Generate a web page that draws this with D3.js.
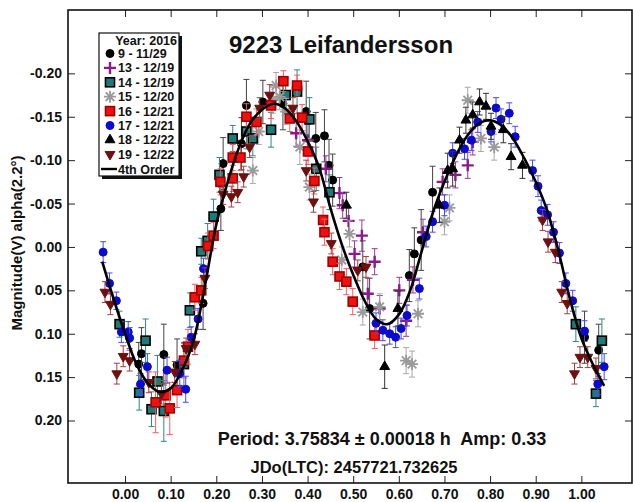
<!DOCTYPE html>
<html>
<head>
<meta charset="utf-8">
<script src="https://cdn.jsdelivr.net/npm/d3@7"></script>
<style>
body { margin: 0; background: #fff; }
svg text { font-family: "Liberation Sans", Arial, sans-serif; font-weight: bold; fill: #111; }
</style>
</head>
<body>
<div id="chart"></div>
<script>
// begin data //

const xTicks = [0.0, 0.1, 0.2, 0.3, 0.4, 0.5, 0.6, 0.7, 0.8, 0.9, 1.0]
const yTicks = [-0.20, -0.15, -0.10, -0.05, 0.00, 0.05, 0.10, 0.15, 0.20]

// 4th order fit: [phase, mag]
const fitCurve = [
    [-0.05, 0.017], [-0.025, 0.060], [0.0, 0.100], [0.025, 0.135], [0.05, 0.157],
    [0.075, 0.167], [0.10, 0.163], [0.125, 0.142], [0.15, 0.108], [0.175, 0.045],
    [0.20, -0.026], [0.225, -0.075], [0.25, -0.115], [0.275, -0.143], [0.30, -0.158],
    [0.325, -0.165], [0.35, -0.160], [0.375, -0.145], [0.40, -0.122], [0.425, -0.092],
    [0.45, -0.045], [0.475, -0.003], [0.50, 0.032], [0.525, 0.062], [0.55, 0.083],
    [0.575, 0.089], [0.60, 0.078], [0.625, 0.050], [0.65, 0.005], [0.675, -0.040],
    [0.70, -0.075], [0.725, -0.105], [0.75, -0.128], [0.775, -0.142], [0.80, -0.146],
    [0.825, -0.140], [0.85, -0.125], [0.875, -0.102], [0.90, -0.075], [0.925, -0.042],
    [0.95, 0.005], [0.975, 0.060], [1.0, 0.105], [1.025, 0.135], [1.05, 0.160]
]

// sessions: [phase, mag, error]
const s09 = [
    [0.030, 0.135, 0.025], [0.036, 0.123, 0.030], [0.085, 0.124, 0.035], [0.114, 0.136, 0.030],
    [0.171, 0.065, 0.030], [0.210, -0.044, 0.025], [0.215, -0.096, 0.030], [0.255, -0.119, 0.030],
    [0.266, -0.163, 0.030], [0.302, -0.167, 0.025], [0.346, -0.165, 0.030], [0.397, -0.156, 0.035],
    [0.418, -0.125, 0.030], [0.437, -0.128, 0.030], [0.447, -0.094, 0.030], [0.455, -0.077, 0.030],
    [0.521, 0.023, 0.030], [0.536, 0.071, 0.035], [0.623, 0.033, 0.030], [0.634, 0.008, 0.030],
    [0.649, -0.008, 0.035], [0.674, -0.063, 0.030], [1.007, 0.104, 0.030], [1.038, 0.119, 0.030]
]
const s13 = [
    [0.375, -0.131, 0.015], [0.401, -0.123, 0.018], [0.440, -0.090, 0.015], [0.470, -0.062, 0.018],
    [0.477, -0.048, 0.015], [0.490, -0.030, 0.015], [0.503, 0.008, 0.015], [0.519, -0.013, 0.018],
    [0.532, 0.054, 0.018], [0.547, 0.017, 0.015], [0.558, 0.071, 0.015], [0.601, 0.050, 0.015],
    [0.616, 0.085, 0.018], [0.631, 0.038, 0.015], [0.653, -0.017, 0.015], [0.696, -0.075, 0.015],
    [0.724, -0.083, 0.015], [0.751, -0.094, 0.015], [0.762, -0.121, 0.015]
]
const s14 = [
    [-0.012, 0.089, 0.015], [0.031, 0.168, 0.020], [0.045, 0.108, 0.025], [0.058, 0.187, 0.020],
    [0.071, 0.155, 0.030], [0.085, 0.189, 0.035], [0.129, 0.135, 0.025], [0.142, 0.073, 0.020],
    [0.167, 0.005, 0.015], [0.181, -0.007, 0.020], [0.194, -0.035, 0.020], [0.207, -0.083, 0.020],
    [0.236, -0.125, 0.015], [0.266, -0.133, 0.020], [0.280, -0.125, 0.020], [0.320, -0.135, 0.020],
    [0.352, -0.175, 0.020], [0.377, -0.179, 0.025], [0.404, -0.147, 0.025], [0.419, -0.090, 0.025],
    [0.448, -0.063, 0.020], [0.988, 0.089, 0.020], [1.032, 0.169, 0.015], [1.045, 0.108, 0.025]
]
const s15 = [
    [0.280, -0.088, 0.015], [0.293, -0.133, 0.015], [0.324, -0.169, 0.015], [0.331, -0.186, 0.015],
    [0.339, -0.173, 0.015], [0.353, -0.156, 0.015], [0.383, -0.115, 0.020], [0.404, -0.069, 0.015],
    [0.475, 0.015, 0.015], [0.492, -0.015, 0.015], [0.521, 0.075, 0.015], [0.558, 0.069, 0.015],
    [0.616, 0.131, 0.015], [0.629, 0.135, 0.015], [0.642, 0.077, 0.015], [0.700, -0.029, 0.015],
    [0.711, -0.045, 0.015], [0.751, -0.169, 0.015], [0.780, -0.125, 0.015], [0.809, -0.115, 0.015]
]
const s16 = [
    [0.067, 0.179, 0.035], [0.089, 0.171, 0.025], [0.098, 0.186, 0.030], [0.114, 0.165, 0.020],
    [0.129, 0.131, 0.020], [0.138, 0.115, 0.020], [0.153, 0.058, 0.015], [0.167, 0.050, 0.015],
    [0.182, -0.001, 0.015], [0.194, -0.013, 0.015], [0.209, -0.075, 0.015], [0.236, -0.079, 0.015],
    [0.236, -0.103, 0.015], [0.253, -0.103, 0.015], [0.266, -0.150, 0.015], [0.288, -0.144, 0.015],
    [0.320, -0.163, 0.015], [0.347, -0.191, 0.012], [0.361, -0.148, 0.015], [0.377, -0.186, 0.012],
    [0.388, -0.149, 0.015], [0.401, -0.110, 0.015], [0.415, -0.076, 0.015], [0.434, -0.031, 0.015],
    [0.437, -0.017, 0.015], [0.455, 0.017, 0.015], [0.470, 0.034, 0.015], [0.485, 0.040, 0.015],
    [0.499, 0.063, 0.015], [0.547, 0.102, 0.015]
]
const s17 = [
    [-0.048, 0.006, 0.012], [-0.034, 0.042, 0.012], [-0.019, 0.062, 0.010], [-0.008, 0.098, 0.012],
    [0.007, 0.098, 0.012], [0.010, 0.105, 0.012], [0.034, 0.158, 0.012], [0.049, 0.138, 0.015],
    [0.092, 0.142, 0.015], [0.120, 0.146, 0.015], [0.133, 0.164, 0.015], [0.145, 0.104, 0.012],
    [0.160, 0.083, 0.012], [0.172, 0.025, 0.012], [0.550, 0.088, 0.012], [0.565, 0.096, 0.012],
    [0.580, 0.100, 0.012], [0.593, 0.104, 0.012], [0.605, 0.094, 0.012], [0.618, 0.079, 0.012],
    [0.645, 0.048, 0.012], [0.660, -0.012, 0.012], [0.674, -0.029, 0.012], [0.700, -0.048, 0.012],
    [0.718, -0.108, 0.012], [0.744, -0.113, 0.012], [0.759, -0.123, 0.012], [0.773, -0.144, 0.012],
    [0.802, -0.133, 0.012], [0.813, -0.160, 0.012], [0.824, -0.147, 0.012], [0.842, -0.154, 0.012],
    [0.855, -0.127, 0.012], [0.893, -0.088, 0.012], [0.905, -0.070, 0.012], [0.912, -0.042, 0.012],
    [0.926, -0.037, 0.012], [0.939, -0.017, 0.012], [0.952, 0.007, 0.012], [0.966, 0.042, 0.012],
    [0.981, 0.062, 0.012], [1.007, 0.097, 0.012], [1.036, 0.158, 0.012], [1.050, 0.138, 0.015]
]
const s18 = [
    [0.485, -0.048, 0.015], [0.569, 0.138, 0.025], [0.598, 0.071, 0.020], [0.689, -0.048, 0.020],
    [0.707, -0.088, 0.020], [0.718, -0.090, 0.020], [0.733, -0.123, 0.015], [0.747, -0.146, 0.015],
    [0.762, -0.152, 0.015], [0.777, -0.167, 0.015], [0.791, -0.162, 0.015], [0.802, -0.139, 0.015],
    [0.829, -0.135, 0.015], [0.846, -0.104, 0.015], [0.871, -0.094, 0.015]
]
const s19 = [
    [-0.044, 0.052, 0.012], [-0.032, 0.066, 0.012], [-0.018, 0.146, 0.012], [-0.004, 0.126, 0.012],
    [0.010, 0.131, 0.012], [0.052, 0.156, 0.012], [0.080, 0.169, 0.012], [0.109, 0.144, 0.012],
    [0.134, 0.117, 0.012], [0.153, 0.112, 0.012], [0.175, 0.036, 0.012], [0.215, -0.061, 0.012],
    [0.233, -0.058, 0.012], [0.247, -0.063, 0.012], [0.260, -0.081, 0.012], [0.273, -0.115, 0.012],
    [0.295, -0.160, 0.012], [0.317, -0.175, 0.012], [0.368, -0.160, 0.012], [0.397, -0.088, 0.012],
    [0.413, -0.052, 0.012], [0.452, -0.004, 0.012], [0.510, 0.027, 0.012], [0.528, 0.023, 0.012],
    [0.915, -0.031, 0.012], [0.927, -0.006, 0.012], [0.943, 0.006, 0.012], [0.957, 0.052, 0.012],
    [0.969, 0.065, 0.012], [0.985, 0.146, 0.012], [0.997, 0.127, 0.012], [1.014, 0.127, 0.012],
    [1.032, 0.140, 0.012]
]

const sessionNames = ['9 - 11/29', '13 - 12/19', '14 - 12/19', '15 - 12/20',
    '16 - 12/21', '17 - 12/21', '18 - 12/22', '19 - 12/22']

// end data //

const styles = [
    { shape: 'circle', fill: '#000', stroke: '#000', bar: '#444' },
    { shape: 'plus', fill: 'none', stroke: '#8a1a8a', bar: '#9a3a9a' },
    { shape: 'square', fill: '#1e7c78', stroke: '#000', bar: '#2a8a86' },
    { shape: 'asterisk', fill: 'none', stroke: '#9a9a9a', bar: '#a8a8a8' },
    { shape: 'square', fill: '#f01010', stroke: '#a00000', bar: '#f06060' },
    { shape: 'circle', fill: '#0a0ad0', stroke: '#0a0ad0', bar: '#4a4ae8' },
    { shape: 'triangle', fill: '#000', stroke: '#000', bar: '#333' },
    { shape: 'triangleDown', fill: '#6e1010', stroke: '#6e1010', bar: '#a04040' }
]
const sessions = [s09, s13, s14, s15, s16, s17, s18, s19].map((data, i) => ({
    name: sessionNames[i],
    data: data,
    ...styles[i]
}))

const width = 633
const height = 502
const plot = { left: 68, right: 632, top: 10, bottom: 483 }

const x = d3.scaleLinear().domain([-0.125, 1.111]).range([plot.left, plot.right])
const y = d3.scaleLinear().domain([-0.273, 0.272]).range([plot.top, plot.bottom])

const svg = d3.select('#chart').append('svg')
    .attr('width', width)
    .attr('height', height)

// draws one marker at (0,0) into g
function drawMarker(g, shape, fill, stroke) {
    if (shape === 'circle') {
        g.append('circle').attr('r', 4).attr('fill', fill).attr('stroke', stroke)
    } else if (shape === 'square') {
        g.append('rect').attr('x', -4.5).attr('y', -4.5).attr('width', 9).attr('height', 9)
            .attr('fill', fill).attr('stroke', stroke).attr('stroke-width', 1.6)
    } else if (shape === 'triangle' || shape === 'triangleDown') {
        g.append('path')
            .attr('d', d3.symbol(d3.symbolTriangle, 42)())
            .attr('transform', shape === 'triangleDown' ? 'rotate(180)' : null)
            .attr('fill', fill).attr('stroke', stroke)
    } else if (shape === 'plus') {
        g.append('path').attr('d', 'M-6,0H6M0,-6V6')
            .attr('stroke', stroke).attr('stroke-width', 2.4)
    } else if (shape === 'asterisk') {
        g.append('path').attr('d', 'M-6,0H6M0,-6V6M-4.3,-4.3L4.3,4.3M-4.3,4.3L4.3,-4.3')
            .attr('stroke', stroke).attr('stroke-width', 1.8)
    }
}

// frame + axes
const xAxisBottom = d3.axisBottom(x).tickValues(xTicks).tickFormat((d) => d.toFixed(2))
    .tickSizeInner(-7).tickSizeOuter(0).tickPadding(6)
const xAxisTop = d3.axisTop(x).tickValues(xTicks).tickFormat('')
    .tickSizeInner(-7).tickSizeOuter(0)
const yAxisLeft = d3.axisLeft(y).tickValues(yTicks).tickFormat((d) => d.toFixed(2))
    .tickSizeInner(-7).tickSizeOuter(0).tickPadding(6)
const yAxisRight = d3.axisRight(y).tickValues(yTicks).tickFormat('')
    .tickSizeInner(-7).tickSizeOuter(0)

function styleAxis(g) {
    g.select('.domain').remove()
    g.selectAll('.tick line').attr('stroke', '#222').attr('stroke-width', 1)
    g.selectAll('.tick text').attr('font-size', 14).attr('fill', '#111')
}

svg.append('g').attr('transform', `translate(0,${plot.bottom})`).call(xAxisBottom).call(styleAxis)
svg.append('g').attr('transform', `translate(0,${plot.top})`).call(xAxisTop).call(styleAxis)
svg.append('g').attr('transform', `translate(${plot.left},0)`).call(yAxisLeft).call(styleAxis)
svg.append('g').attr('transform', `translate(${plot.right},0)`).call(yAxisRight).call(styleAxis)

svg.append('rect')
    .attr('x', plot.left).attr('y', plot.top)
    .attr('width', plot.right - plot.left).attr('height', plot.bottom - plot.top)
    .attr('fill', 'none').attr('stroke', '#111').attr('stroke-width', 1.6)

// data points with error bars
sessions.forEach((s) => {
    const g = svg.append('g')
    const pts = g.selectAll('g').data(s.data).join('g')
        .attr('transform', (d) => `translate(${x(d[0])},${y(d[1])})`)
    pts.append('path')
        .attr('d', (d) => {
            const top = y(d[1] - d[2]) - y(d[1])
            const bot = y(d[1] + d[2]) - y(d[1])
            return `M0,${top}V${bot}M-3,${top}H3M-3,${bot}H3`
        })
        .attr('stroke', s.bar).attr('stroke-width', 1).attr('fill', 'none')
    pts.each(function () {
        drawMarker(d3.select(this), s.shape, s.fill, s.stroke)
    })
})

// fit curve
svg.append('path')
    .datum(fitCurve)
    .attr('d', d3.line().x((d) => x(d[0])).y((d) => y(d[1])).curve(d3.curveCatmullRom))
    .attr('fill', 'none')
    .attr('stroke', '#000')
    .attr('stroke-width', 2.6)

// title + notes
svg.append('text').attr('x', 341).attr('y', 53).attr('text-anchor', 'middle')
    .attr('font-size', 24).text('9223 Leifandersson')
svg.append('text').attr('x', 382).attr('y', 445).attr('text-anchor', 'middle')
    .style('white-space', 'pre')
    .attr('font-size', 18).text('Period: 3.75834 \u00b1 0.00018 h  Amp: 0.33')
svg.append('text').attr('x', 354).attr('y', 473).attr('text-anchor', 'middle')
    .attr('font-size', 16.5).text('JDo(LTC): 2457721.732625')

svg.append('text')
    .attr('transform', `translate(22,243) rotate(-90)`)
    .attr('text-anchor', 'middle')
    .attr('font-size', 15)
    .text('Magnitude(V) alpha(2.2\u00b0)')

// legend
const legend = svg.append('g')
legend.append('rect').attr('x', 102).attr('y', 36).attr('width', 80).attr('height', 143).attr('fill', '#111')
legend.append('rect').attr('x', 99).attr('y', 33).attr('width', 80).attr('height', 143)
    .attr('fill', '#fff').attr('stroke', '#111').attr('stroke-width', 1.2)
legend.append('text').attr('x', 177).attr('y', 45).attr('text-anchor', 'end')
    .attr('font-size', 12.5).text('Year: 2016')
sessions.forEach((s, i) => {
    const cy = 53.5 + i * 14.4
    const g = legend.append('g').attr('transform', `translate(110,${cy})`)
    drawMarker(g, s.shape, s.fill, s.stroke)
    legend.append('text').attr('x', 118).attr('y', cy + 4.5).attr('font-size', 12.5).text(s.name)
})
legend.append('line').attr('x1', 101).attr('x2', 117).attr('y1', 169).attr('y2', 169)
    .attr('stroke', '#000').attr('stroke-width', 2.4)
legend.append('text').attr('x', 118).attr('y', 173.5).attr('font-size', 12.5).text('4th Order')
</script>
</body>
</html>
